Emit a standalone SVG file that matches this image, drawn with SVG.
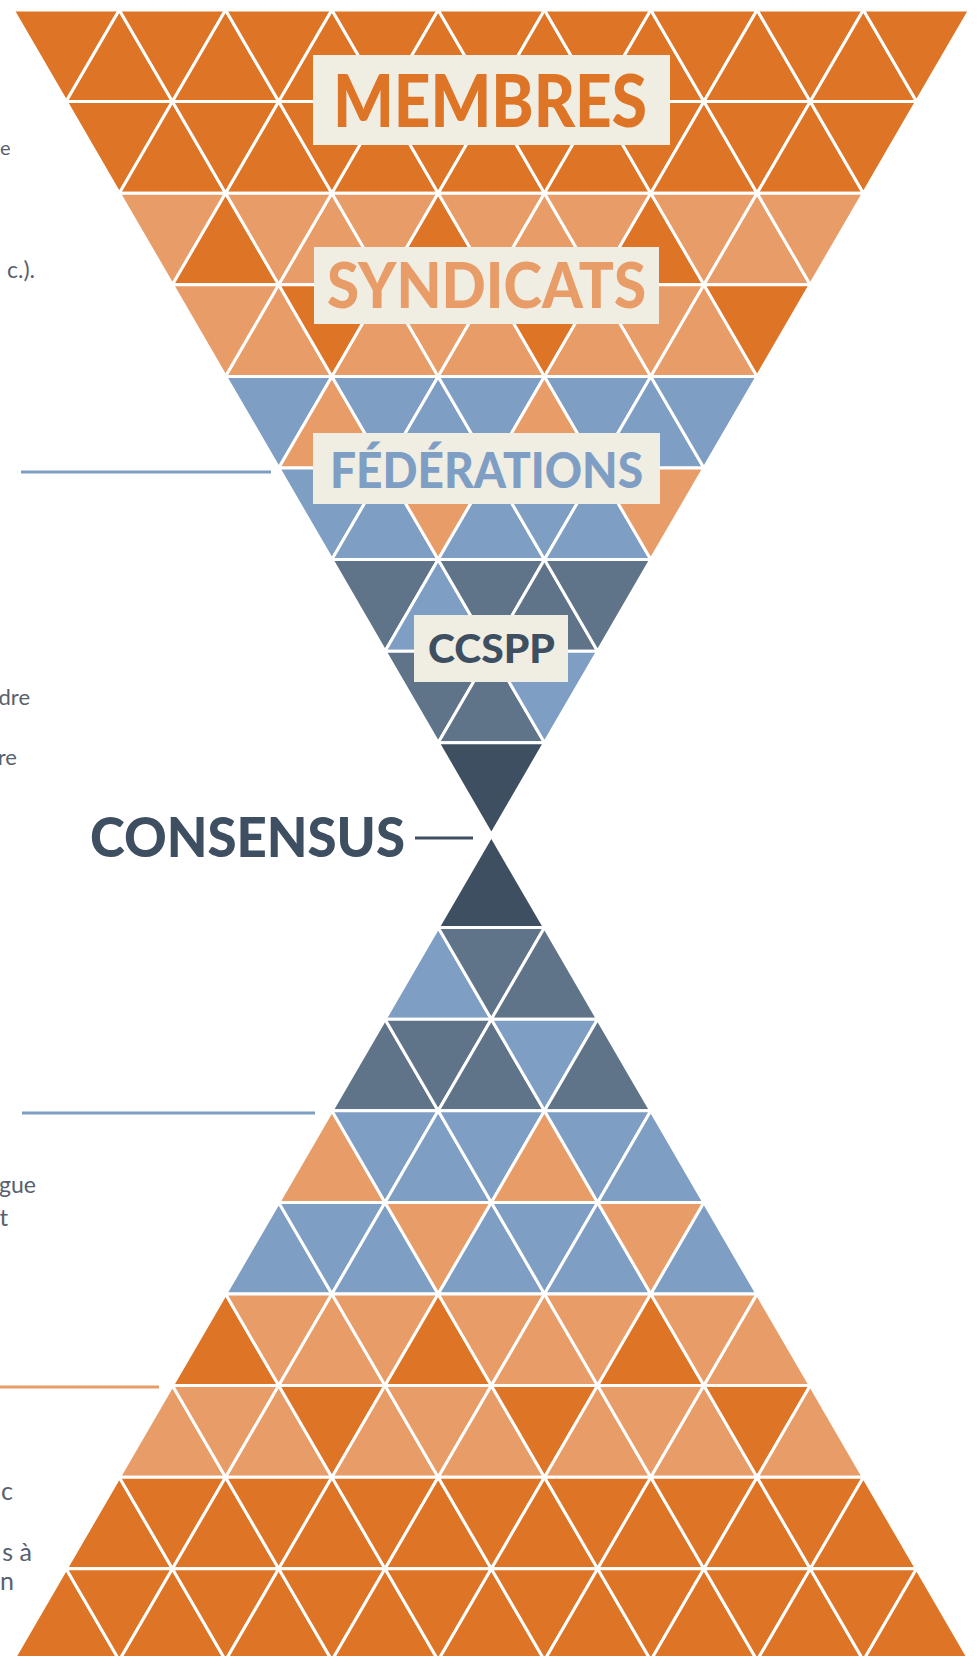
<svg xmlns="http://www.w3.org/2000/svg" xmlns:xlink="http://www.w3.org/1999/xlink" width="979" height="1656" viewBox="0 0 979 1656">
<style>
.t use{stroke:#ffffff;stroke-width:3;stroke-linejoin:round}
.do{fill:#DD7426}
.lo{fill:#E89D69}
.bl{fill:#7F9EC4}
.sl{fill:#5F7389}
.nv{fill:#3E4F62}
.box{fill:#F0EDE3}
.lbl{font-family:"Lato","Liberation Sans",sans-serif;font-weight:900}
.side{font-family:"Lato","Liberation Sans",sans-serif;fill:#57616D;text-anchor:end}
.ln{stroke-width:3;fill:none}
</style>
<defs>
<path id="D" d="M0,0 H106.3 L53.15,91.6 Z"/>
<path id="U" d="M0,91.6 L53.15,0 L106.3,91.6 Z"/>
</defs>
<rect width="979" height="1656" fill="#ffffff"/>

<g id="side-texts">
<text class="side" x="0" y="155" font-size="20" text-anchor="start" style="text-anchor:start">e</text>
<text class="side" x="35" y="278" font-size="23">c.).</text>
<text class="side" x="30" y="705" font-size="22">dre</text>
<text class="side" x="17" y="765" font-size="22">re</text>
<text class="side" x="36" y="1193" font-size="23">gue</text>
<text class="side" x="8" y="1226" font-size="24">t</text>
<text class="side" x="13" y="1500" font-size="25">c</text>
<text class="side" x="32" y="1561" font-size="25">s à</text>
<text class="side" x="14" y="1590" font-size="25">n</text>
</g>

<g id="top-funnel" class="t" transform="translate(13,10)">
<!-- row 0 -->
<use href="#D" x="0" y="0" class="do"/><use href="#U" x="53.15" y="0" class="do"/>
<use href="#D" x="106.3" y="0" class="do"/><use href="#U" x="159.45" y="0" class="do"/>
<use href="#D" x="212.6" y="0" class="do"/><use href="#U" x="265.75" y="0" class="do"/>
<use href="#D" x="318.9" y="0" class="do"/><use href="#U" x="372.05" y="0" class="do"/>
<use href="#D" x="425.2" y="0" class="do"/><use href="#U" x="478.35" y="0" class="do"/>
<use href="#D" x="531.5" y="0" class="do"/><use href="#U" x="584.65" y="0" class="do"/>
<use href="#D" x="637.8" y="0" class="do"/><use href="#U" x="690.95" y="0" class="do"/>
<use href="#D" x="744.1" y="0" class="do"/><use href="#U" x="797.25" y="0" class="do"/>
<use href="#D" x="850.4" y="0" class="do"/>
<!-- row 1 -->
<use href="#D" x="53.15" y="91.6" class="do"/><use href="#U" x="106.3" y="91.6" class="do"/>
<use href="#D" x="159.45" y="91.6" class="do"/><use href="#U" x="212.6" y="91.6" class="do"/>
<use href="#D" x="265.75" y="91.6" class="do"/><use href="#U" x="318.9" y="91.6" class="do"/>
<use href="#D" x="372.05" y="91.6" class="do"/><use href="#U" x="425.2" y="91.6" class="do"/>
<use href="#D" x="478.35" y="91.6" class="do"/><use href="#U" x="531.5" y="91.6" class="do"/>
<use href="#D" x="584.65" y="91.6" class="do"/><use href="#U" x="637.8" y="91.6" class="do"/>
<use href="#D" x="690.95" y="91.6" class="do"/><use href="#U" x="744.1" y="91.6" class="do"/>
<use href="#D" x="797.25" y="91.6" class="do"/>
<!-- row 2 -->
<use href="#D" x="106.3" y="183.2" class="lo"/><use href="#U" x="159.45" y="183.2" class="do"/>
<use href="#D" x="212.6" y="183.2" class="lo"/><use href="#U" x="265.75" y="183.2" class="lo"/>
<use href="#D" x="318.9" y="183.2" class="lo"/><use href="#U" x="372.05" y="183.2" class="do"/>
<use href="#D" x="425.2" y="183.2" class="lo"/><use href="#U" x="478.35" y="183.2" class="lo"/>
<use href="#D" x="531.5" y="183.2" class="lo"/><use href="#U" x="584.65" y="183.2" class="do"/>
<use href="#D" x="637.8" y="183.2" class="lo"/><use href="#U" x="690.95" y="183.2" class="lo"/>
<use href="#D" x="744.1" y="183.2" class="lo"/>
<!-- row 3 -->
<use href="#D" x="159.45" y="274.8" class="lo"/><use href="#U" x="212.6" y="274.8" class="lo"/>
<use href="#D" x="265.75" y="274.8" class="do"/><use href="#U" x="318.9" y="274.8" class="lo"/>
<use href="#D" x="372.05" y="274.8" class="lo"/><use href="#U" x="425.2" y="274.8" class="lo"/>
<use href="#D" x="478.35" y="274.8" class="do"/><use href="#U" x="531.5" y="274.8" class="lo"/>
<use href="#D" x="584.65" y="274.8" class="lo"/><use href="#U" x="637.8" y="274.8" class="lo"/>
<use href="#D" x="690.95" y="274.8" class="do"/>
<!-- row 4 -->
<use href="#D" x="212.6" y="366.4" class="bl"/><use href="#U" x="265.75" y="366.4" class="lo"/>
<use href="#D" x="318.9" y="366.4" class="bl"/><use href="#U" x="372.05" y="366.4" class="bl"/>
<use href="#D" x="425.2" y="366.4" class="bl"/><use href="#U" x="478.35" y="366.4" class="lo"/>
<use href="#D" x="531.5" y="366.4" class="bl"/><use href="#U" x="584.65" y="366.4" class="bl"/>
<use href="#D" x="637.8" y="366.4" class="bl"/>
<!-- row 5 -->
<use href="#D" x="265.75" y="458" class="bl"/><use href="#U" x="318.9" y="458" class="bl"/>
<use href="#D" x="372.05" y="458" class="lo"/><use href="#U" x="425.2" y="458" class="bl"/>
<use href="#D" x="478.35" y="458" class="bl"/><use href="#U" x="531.5" y="458" class="bl"/>
<use href="#D" x="584.65" y="458" class="lo"/>
<!-- row 6 -->
<use href="#D" x="318.9" y="549.6" class="sl"/><use href="#U" x="372.05" y="549.6" class="bl"/>
<use href="#D" x="425.2" y="549.6" class="sl"/><use href="#U" x="478.35" y="549.6" class="sl"/>
<use href="#D" x="531.5" y="549.6" class="sl"/>
<!-- row 7 -->
<use href="#D" x="372.05" y="641.2" class="sl"/><use href="#U" x="425.2" y="641.2" class="sl"/>
<use href="#D" x="478.35" y="641.2" class="bl"/>
<!-- row 8 -->
<use href="#D" x="425.2" y="732.8" class="nv"/>
</g>

<g id="bottom-pyramid" class="t" transform="translate(13,836)">
<!-- row 0 -->
<use href="#U" x="425.2" y="0" class="nv"/>
<!-- row 1 -->
<use href="#U" x="372.05" y="91.6" class="bl"/><use href="#D" x="425.2" y="91.6" class="sl"/>
<use href="#U" x="478.35" y="91.6" class="sl"/>
<!-- row 2 -->
<use href="#U" x="318.9" y="183.2" class="sl"/><use href="#D" x="372.05" y="183.2" class="sl"/>
<use href="#U" x="425.2" y="183.2" class="sl"/><use href="#D" x="478.35" y="183.2" class="bl"/>
<use href="#U" x="531.5" y="183.2" class="sl"/>
<!-- row 3 -->
<use href="#U" x="265.75" y="274.8" class="lo"/><use href="#D" x="318.9" y="274.8" class="bl"/>
<use href="#U" x="372.05" y="274.8" class="bl"/><use href="#D" x="425.2" y="274.8" class="bl"/>
<use href="#U" x="478.35" y="274.8" class="lo"/><use href="#D" x="531.5" y="274.8" class="bl"/>
<use href="#U" x="584.65" y="274.8" class="bl"/>
<!-- row 4 -->
<use href="#U" x="212.6" y="366.4" class="bl"/><use href="#D" x="265.75" y="366.4" class="bl"/>
<use href="#U" x="318.9" y="366.4" class="bl"/><use href="#D" x="372.05" y="366.4" class="lo"/>
<use href="#U" x="425.2" y="366.4" class="bl"/><use href="#D" x="478.35" y="366.4" class="bl"/>
<use href="#U" x="531.5" y="366.4" class="bl"/><use href="#D" x="584.65" y="366.4" class="lo"/>
<use href="#U" x="637.8" y="366.4" class="bl"/>
<!-- row 5 -->
<use href="#U" x="159.45" y="458" class="do"/><use href="#D" x="212.6" y="458" class="lo"/>
<use href="#U" x="265.75" y="458" class="lo"/><use href="#D" x="318.9" y="458" class="lo"/>
<use href="#U" x="372.05" y="458" class="do"/><use href="#D" x="425.2" y="458" class="lo"/>
<use href="#U" x="478.35" y="458" class="lo"/><use href="#D" x="531.5" y="458" class="lo"/>
<use href="#U" x="584.65" y="458" class="do"/><use href="#D" x="637.8" y="458" class="lo"/>
<use href="#U" x="690.95" y="458" class="lo"/>
<!-- row 6 -->
<use href="#U" x="106.3" y="549.6" class="lo"/><use href="#D" x="159.45" y="549.6" class="lo"/>
<use href="#U" x="212.6" y="549.6" class="lo"/><use href="#D" x="265.75" y="549.6" class="do"/>
<use href="#U" x="318.9" y="549.6" class="lo"/><use href="#D" x="372.05" y="549.6" class="lo"/>
<use href="#U" x="425.2" y="549.6" class="lo"/><use href="#D" x="478.35" y="549.6" class="do"/>
<use href="#U" x="531.5" y="549.6" class="lo"/><use href="#D" x="584.65" y="549.6" class="lo"/>
<use href="#U" x="637.8" y="549.6" class="lo"/><use href="#D" x="690.95" y="549.6" class="do"/>
<use href="#U" x="744.1" y="549.6" class="lo"/>
<!-- row 7 -->
<use href="#U" x="53.15" y="641.2" class="do"/><use href="#D" x="106.3" y="641.2" class="do"/>
<use href="#U" x="159.45" y="641.2" class="do"/><use href="#D" x="212.6" y="641.2" class="do"/>
<use href="#U" x="265.75" y="641.2" class="do"/><use href="#D" x="318.9" y="641.2" class="do"/>
<use href="#U" x="372.05" y="641.2" class="do"/><use href="#D" x="425.2" y="641.2" class="do"/>
<use href="#U" x="478.35" y="641.2" class="do"/><use href="#D" x="531.5" y="641.2" class="do"/>
<use href="#U" x="584.65" y="641.2" class="do"/><use href="#D" x="637.8" y="641.2" class="do"/>
<use href="#U" x="690.95" y="641.2" class="do"/><use href="#D" x="744.1" y="641.2" class="do"/>
<use href="#U" x="797.25" y="641.2" class="do"/>
<!-- row 8 -->
<use href="#U" x="0" y="732.8" class="do"/><use href="#D" x="53.15" y="732.8" class="do"/>
<use href="#U" x="106.3" y="732.8" class="do"/><use href="#D" x="159.45" y="732.8" class="do"/>
<use href="#U" x="212.6" y="732.8" class="do"/><use href="#D" x="265.75" y="732.8" class="do"/>
<use href="#U" x="318.9" y="732.8" class="do"/><use href="#D" x="372.05" y="732.8" class="do"/>
<use href="#U" x="425.2" y="732.8" class="do"/><use href="#D" x="478.35" y="732.8" class="do"/>
<use href="#U" x="531.5" y="732.8" class="do"/><use href="#D" x="584.65" y="732.8" class="do"/>
<use href="#U" x="637.8" y="732.8" class="do"/><use href="#D" x="690.95" y="732.8" class="do"/>
<use href="#U" x="744.1" y="732.8" class="do"/><use href="#D" x="797.25" y="732.8" class="do"/>
<use href="#U" x="850.4" y="732.8" class="do"/>
</g>

<g id="connectors">
<line class="ln" x1="21" y1="472" x2="271" y2="472" stroke="#7F9EC4"/>
<line class="ln" x1="22" y1="1113" x2="315" y2="1113" stroke="#7F9EC4"/>
<line class="ln" x1="0" y1="1387" x2="159" y2="1387" stroke="#E89D69"/>
<line class="ln" x1="415" y1="838" x2="473" y2="838" stroke="#3E4F62" stroke-width="2.5"/>
</g>

<g id="membres">
<rect class="box" x="313" y="55" width="357" height="90"/>
<text class="lbl" x="333" y="127" font-size="72" fill="#DD7426" textLength="314" lengthAdjust="spacingAndGlyphs">MEMBRES</text>
</g>
<g id="syndicats">
<rect class="box" x="314" y="247" width="345" height="77"/>
<text class="lbl" x="327" y="308" font-size="63" fill="#E89D69" textLength="319" lengthAdjust="spacingAndGlyphs">SYNDICATS</text>
</g>
<g id="federations">
<rect class="box" x="313" y="433" width="347" height="71"/>
<text class="lbl" x="330" y="488" font-size="50" fill="#7F9EC4" textLength="313" lengthAdjust="spacingAndGlyphs">FÉDÉRATIONS</text>
</g>
<g id="ccspp">
<rect class="box" x="414" y="615" width="154" height="67"/>
<text class="lbl" x="428" y="663" font-size="39" fill="#3E4F62" textLength="127" lengthAdjust="spacingAndGlyphs">CCSPP</text>
</g>
<g id="consensus">
<text class="lbl" x="90" y="857" font-size="56" fill="#3E4F62" textLength="315" lengthAdjust="spacingAndGlyphs">CONSENSUS</text>
</g>
</svg>
